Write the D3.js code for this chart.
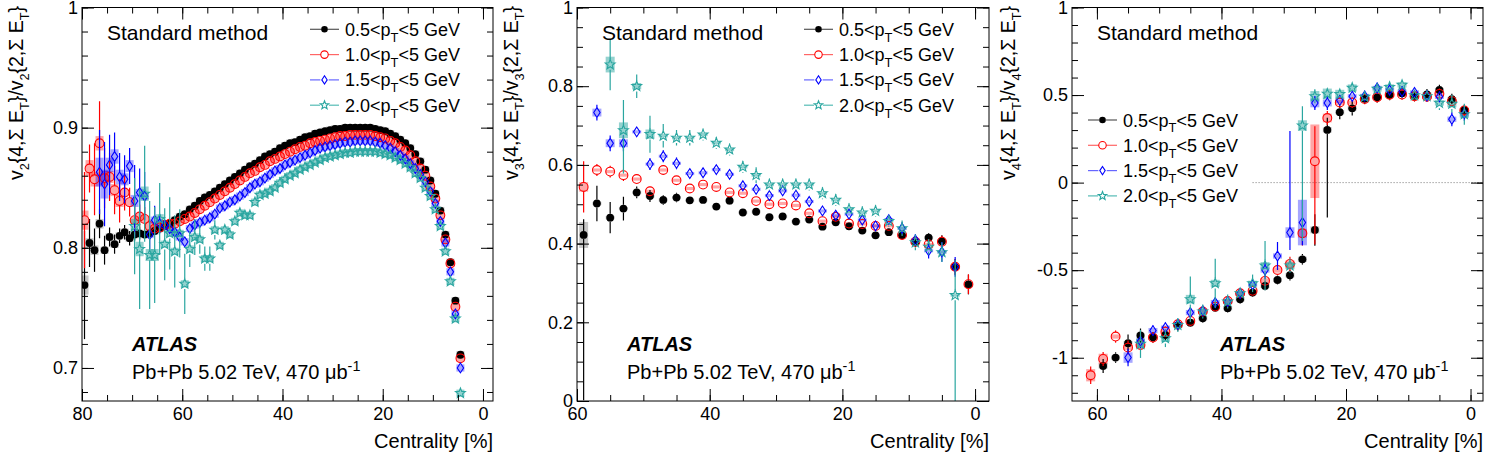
<!DOCTYPE html>
<html lang="en">
<head>
<meta charset="UTF-8">
<title>ATLAS v_n{4,ΣE_T}/v_n{2,ΣE_T} vs centrality</title>
<script src="https://d3js.org/d3.v7.min.js"></script>
<style>
  body { margin: 0; background: #fff; }
  svg { display: block; font-family: "Liberation Sans", Arial, Helvetica, sans-serif; }
</style>
</head>
<body>
<svg id="chart" width="1500" height="465"></svg>
<script>
// ---- series (lower pT cut of each sample) ----
const ptLow = ["0.5", "1.0", "1.5", "2.0"];

// ---- panel 1: v2{4}/v2{2}, 1% centrality bins ----
const p1Cent = [79.5,78.5,77.5,76.5,75.5,74.5,73.5,72.5,71.5,70.5,69.5,68.5,67.5,66.5,65.5,64.5,63.5,62.5,61.5,60.5,
  59.5,58.5,57.5,56.5,55.5,54.5,53.5,52.5,51.5,50.5,49.5,48.5,47.5,46.5,45.5,44.5,43.5,42.5,41.5,40.5,
  39.5,38.5,37.5,36.5,35.5,34.5,33.5,32.5,31.5,30.5,29.5,28.5,27.5,26.5,25.5,24.5,23.5,22.5,21.5,20.5,
  19.5,18.5,17.5,16.5,15.5,14.5,13.5,12.5,11.5,10.5,9.5,8.5,7.5,6.5,5.5,4.5];
const p1Black = [.769,.804,.798,.820,.798,.809,.803,.810,.813,.808, .811,.812,.811,.812,.814,.816,.818,.820,.823,.826,
  .828,.832,.835,.839,.842,.844,.847,.850,.853,.856, .859,.862,.865,.868,.870,.873,.876,.878,.880,.883,
  .885,.887,.888,.890,.892,.893,.895,.896,.897,.898, .899,.899,.900,.900,.900,.900,.900,.900,.899,.898,
  .897,.895,.893,.890,.887,.883,.878,.872,.865,.856, .845,.831,.811,.788,.756,.711];
const p1Red = [.823,.866,.857,.887,.858,.859,.848,.839,.846,.838, .823,.826,.824,.818,.816,.817,.819,.820,.820,.822,
  .824,.826,.829,.832,.835,.838,.841,.844,.847,.850, .853,.856,.859,.862,.864,.867,.869,.872,.874,.876,
  .878,.880,.882,.884,.885,.887,.888,.889,.890,.891, .892,.893,.893,.894,.894,.894,.894,.894,.893,.892,
  .891,.889,.887,.884,.881,.877,.872,.866,.860,.851, .841,.827,.807,.787,.751,.708];
const p1Blue = [null,null,null,.863,.853,.869,.876,.859,.857,.868, .839,.846,.843,.811,.823,.820,.819,.816,.813,.809,
  .805,.816,.819,.821,.823,.825,.828,.833,.835,.838, .840,.843,.846,.850,.853,.855,.858,.861,.864,.866,
  .869,.871,.873,.875,.877,.879,.881,.883,.884,.885, .886,.887,.888,.888,.889,.889,.889,.889,.888,.887,
  .885,.883,.880,.877,.874,.870,.866,.861,.855,.847, .837,.822,.804,.780,.745,.700];
const p1Teal = [null,null,null,null,null,null,null,null,null,null, .818,.799,.845,.794,.794,.824,.803,.812,.797,.812,
  .770,.799,.809,.807,.791,.791,.815,.802,.815,.811, .822,.829,.827,.827,.838,.844,.845,.847,.850,.854,
  .857,.860,.862,.865,.867,.869,.871,.873,.875,.876, .877,.878,.879,.879,.880,.880,.880,.880,.880,.879,
  .878,.877,.875,.873,.870,.867,.862,.858,.850,.843, .832,.818,.797,.772,.741,.679];
// statistical / systematic uncertainties (peripheral bins; the rest are tiny)
const p1BlackStat = [0.045,0.02,0.018,0.012,0.012,0.008,0.008,0.006,0.006,0.006,0.005,0.005];
const p1RedStat = [0.04,0.02,0.03,0.035,0.025,0.02,0.02,0.018,0.015,0.012,0.012,0.01,0.01,0.006];
const p1BlueStat = [0,0,0,0.035,0.035,0.025,0.02,0.02,0.02,0.015,0.03,0.02,0.02,0.012,0.012,0.008];
const p1TealStat = [0,0,0,0,0,0,0,0,0,0,0.04,0.05,0.04,0.045,0.04,0.03,0.03,0.03,0.03,0.02,
  0.025,0.015,0.015,0.012,0.01,0.01,0.008];
const p1BlackSys = [0.008,0.004,0.004,0.004];
const p1RedSys = [0.008,0.007,0.006,0.006,0.006,0.005,0.005,0.005];
const p1BlueSys = [0,0,0,0.012,0.012,0.006,0.006,0.006,0.005,0.005,0.005];
const p1TealSys = [0,0,0,0,0,0,0,0,0,0,0.006,0.006,0.006,0.005,0.005,0.004];

// ---- panel 2: v3{4}/v3{2}, 2% bins ----
const p2Cent = [59,57,55,53,51,49,47,45,43,41,39,37,35,33,31,29,27,25,23,21,19,17,15,13,11,9,7,5,3,1];
const p2Black = [0.422,0.502,0.466,0.489,0.530,0.521,0.511,0.517,0.510,0.511, 0.494,0.509,0.479,0.481,0.467,0.469,0.456,0.461,0.443,0.454,
  0.444,0.433,0.421,0.429,0.421,0.403,0.415,0.406,0.341,0.296];
const p2Red = [0.544,0.587,0.583,0.574,0.564,0.533,0.587,0.561,0.540,0.550, 0.544,0.530,0.528,0.508,0.500,0.502,0.497,0.477,0.457,0.468,
  0.451,0.450,0.445,0.445,0.422,0.405,0.398,0.405,0.341,0.297];
const p2Blue = [null,0.733,0.655,0.655,0.684,0.602,0.622,0.604,0.578,0.580, 0.588,0.576,0.547,0.538,0.522,0.534,0.523,0.507,0.483,0.472,
  0.475,0.460,0.445,0.461,0.439,0.409,0.382,0.379,0.341,null];
const p2Teal = [null,null,0.855,0.688,0.800,0.678,0.674,0.669,0.669,0.677, 0.656,0.639,0.595,0.574,0.550,0.550,0.550,0.550,0.528,0.511,
  0.487,0.479,0.483,0.457,0.439,0.403,0.392,0.378,0.269,null];
const p2BlackStat = [[0.42,0.04],0.045,0.04,0.03,0.015,0.015,0.012,0.012,0.01,0.01, 0.01,0.01,0.01,0.01,0.01,0.01,0.01,0.01,0.01,0.01,
  0.01,0.01,0.01,0.01,0.01,0.012,0.012,0.015,0.02,0.025];
const p2RedStat = [0.065,0.015,0.015,0.015,0.012,0.012,0.012,0.01,0.01,0.01, 0.01,0.01,0.01,0.01,0.01,0.01,0.01,0.01,0.01,0.01,
  0.01,0.01,0.01,0.01,0.01,0.012,0.012,0.015,0.02,0.025];
const p2BlueStat = [0,0.02,0.02,0.02,0.012,0.015,0.015,0.015,0.012,0.012, 0.012,0.012,0.012,0.012,0.012,0.012,0.012,0.012,0.012,0.012,
  0.012,0.012,0.012,0.012,0.015,0.015,0.02,0.025,0.025,0];
const p2TealStat = [0,0,0.065,[0.11,0.077],0.03,0.047,0.03,0.02,0.02,0.015, 0.015,0.015,0.015,0.02,0.015,0.015,0.015,0.015,0.015,0.015,
  0.015,0.015,0.015,0.015,0.02,0.02,0.02,0.025,[0.27,0.09],0];
const p2BlackSys = [0.033];
const p2RedSys = [0.012];
const p2BlueSys = [0,0.01,0.01,0.01];
const p2TealSys = [0,0,0.02,0.02,0.008,0.012];

// ---- panel 3: v4{4}/v4{2}, 2% bins ----
const p3Cent = [61,59,57,55,53,51,49,47,45,43,41,39,37,35,33,31,29,27,25,23,21,19,17,15,13,11,9,7,5,3,1];
const p3Black = [null,-1.047,-0.999,-0.917,-0.873,-0.883,-0.870,-0.816,-0.800,-0.775, -0.714,-0.717,-0.666,-0.628,-0.590,-0.556,-0.529,-0.438,-0.270,0.301,
  0.402,0.424,0.479,0.487,0.500,0.510,0.495,0.504,0.529,0.477,0.415];
const p3Red = [-1.100,-1.007,-0.879,-0.942,-0.927,-0.885,-0.851,-0.809,-0.790,-0.736, -0.708,-0.676,-0.632,-0.618,-0.561,-0.499,-0.464,-0.289,0.122,0.369,
  0.457,0.457,0.478,0.487,0.502,0.503,0.493,0.490,0.507,0.465,0.412];
const p3Blue = [null,null,null,-0.999,-0.905,-0.845,-0.828,-0.809,-0.742,-0.731, -0.685,-0.679,-0.632,-0.584,-0.499,-0.419,-0.285,-0.228,0.455,0.455,
  0.470,0.493,0.495,0.541,0.529,0.520,0.515,0.495,0.490,0.362,0.393];
const p3Teal = [null,null,null,null,-0.921,null,-0.889,-0.813,-0.666,-0.736, -0.575,-0.679,-0.632,-0.575,-0.474,null,-0.474,0.326,0.493,0.507,
  0.505,0.541,0.490,0.535,0.546,0.558,0.498,0.493,0.455,0.450,0.390];
const p3BlackStat = [0,0.04,0.03,0.05,0.04,0.03,0.03,0.03,0.025,0.025, 0.025,0.025,0.025,0.025,0.025,0.025,0.03,0.03,0.09,[0.5,0.07],
  0.04,0.04,0.03,0.03,0.03,0.03,0.03,0.03,0.03,0.03,0.03];
const p3RedStat = [0.05,0.04,0.035,0.04,0.03,0.03,0.03,0.025,0.025,0.025, 0.025,0.025,0.025,0.025,0.025,0.03,0.04,0.07,[0.476,0.2],0.04,
  0.03,0.03,0.03,0.03,0.03,0.03,0.03,0.03,0.03,0.03,0.03];
const p3BlueStat = [0,0,0,0.05,0.04,0.03,0.03,0.03,0.03,0.03, 0.03,0.03,0.03,0.03,0.05,0.08,[0.1,0.58],0.13,0.04,0.04,
  0.03,0.03,0.03,0.03,0.03,0.03,0.03,0.03,0.03,0.04,0.04];
const p3TealStat = [0,0,0,0,0.08,0,0.05,0.04,0.13,0.04, 0.14,0.04,0.03,0.05,0.14,0,0.04,[0.66,0.11],0.04,0.03,
  0.03,0.03,0.03,0.03,0.03,0.03,0.03,0.03,0.04,0.05,0.06];
const p3BlackSys = [0,0.015,0.012,0.012,0.012,0.012,0.012,0.012,0.012,0.012, 0.012,0.012,0.012,0.012,0.012,0.012,0.012,0.015,0.02,0.015,
  0.012,0.012,0.012,0.012,0.012,0.012,0.012,0.012,0.012,0.012,0.012];
const p3RedSys = [0.035,0.03,0.012,0.015,0.012,0.012,0.012,0.012,0.012,0.012, 0.012,0.012,0.012,0.012,0.015,0.015,0.02,0.025,0.21,0.025,
  0.015,0.012,0.012,0.012,0.012,0.012,0.012,0.012,0.012,0.012,0.012];
const p3BlueSys = [0,0,0,0.03,0.015,0.015,0.012,0.012,0.015,0.012, 0.015,0.012,0.012,0.012,0.015,0.015,0.03,0.13,0.025,0.02,
  0.015,0.012,0.012,0.012,0.012,0.012,0.012,0.012,0.012,0.015,0.015];
const p3TealSys = [0,0,0,0,0.03,0,0.02,0.015,0.025,0.015, 0.02,0.015,0.015,0.015,0.02,0,0.02,0.03,0.03,0.03,
  0.025,0.02,0.015,0.015,0.015,0.015,0.015,0.015,0.015,0.02,0.02];

// ---- axis ticks ----
const p1XTicks = [80, 60, 40, 20, 0];
const p1YTicks = [0.7, 0.8, 0.9, 1];
const p1YLabels = ["0.7", "0.8", "0.9", "1"];
const p2XTicks = [60, 40, 20, 0];
const p2YTicks = [0, 0.2, 0.4, 0.6, 0.8, 1];
const p2YLabels = ["0", "0.2", "0.4", "0.6", "0.8", "1"];
const p3XTicks = [60, 40, 20, 0];
const p3YTicks = [-1, -0.5, 0, 0.5, 1];
const p3YLabels = ["-1", "-0.5", "0", "0.5", "1"];

// ---- styling ----
const colors = ["#000000", "#ff0000", "#0000ff", "#2aa6a0"];
const legendLine = ["#555555", "#ff6666", "#6666ff", "#55bbb5"];
const boxFill = ["rgba(0,0,0,0.22)", "rgba(255,0,0,0.35)", "rgba(0,0,255,0.35)", "rgba(42,166,160,0.5)"];
const mHalf = [3.9, 4.4, 4.9, 5.2];

const svg = d3.select("#chart");
svg.append("rect").attr("width", 1500).attr("height", 465).attr("fill", "#fff");

const panels = [
  { n: 2, left: 82, right: 493, top: 7.5, bottom: 401, xDom: [80, -2], yDom: [0.6725, 1],
    cent: p1Cent, vals: [p1Black, p1Red, p1Blue, p1Teal],
    stat: [p1BlackStat, p1RedStat, p1BlueStat, p1TealStat], sys: [p1BlackSys, p1RedSys, p1BlueSys, p1TealSys],
    statDef: 0.002, sysDef: 0.003, boxW: 8,
    xTicks: p1XTicks, xMinor: 5, yTicks: p1YTicks, yLabels: p1YLabels, yMinor: 0.02,
    titleX: 23, methodX: 107, atlasX: 132, leg: { x: 310, y: 29.3 } },
  { n: 3, left: 577, right: 989, top: 7.5, bottom: 401, xDom: [60, -2.1], yDom: [0, 1],
    cent: p2Cent, vals: [p2Black, p2Red, p2Blue, p2Teal],
    stat: [p2BlackStat, p2RedStat, p2BlueStat, p2TealStat], sys: [p2BlackSys, p2RedSys, p2BlueSys, p2TealSys],
    statDef: 0.01, sysDef: 0.004, boxW: 9,
    xTicks: p2XTicks, xMinor: 5, yTicks: p2YTicks, yLabels: p2YLabels, yMinor: 0.05,
    titleX: 518, methodX: 602, atlasX: 627, leg: { x: 804, y: 29.3 } },
  { n: 4, left: 1072, right: 1483, top: 7.5, bottom: 401, xDom: [64, -2], yDom: [-1.247, 1],
    cent: p3Cent, vals: [p3Black, p3Red, p3Blue, p3Teal],
    stat: [p3BlackStat, p3RedStat, p3BlueStat, p3TealStat], sys: [p3BlackSys, p3RedSys, p3BlueSys, p3TealSys],
    statDef: 0.03, sysDef: 0.012, boxW: 9,
    xTicks: p3XTicks, xMinor: 5, yTicks: p3YTicks, yLabels: p3YLabels, yMinor: 0.1,
    titleX: 1015, methodX: 1097, atlasX: 1220, leg: { x: 1088, y: 120 }, zeroFrom: 35 }
];

// text with sub/superscripts: parts are strings or [text, "sub"|"sup"]
function rich(t, parts, size, subScale) {
  let shift = 0;
  const sc = subScale || 0.72;
  parts.forEach(p => {
    const [s, k] = typeof p === "string" ? [p, ""] : p;
    const off = k === "sub" ? size * 0.33 : k === "sup" ? -size * 0.42 : 0;
    t.append("tspan").attr("dy", (off - shift).toFixed(2))
      .attr("font-size", k ? size * sc : size).text(s);
    shift = off;
  });
  return t;
}

function pick(arr, i, def) {
  const v = arr[i];
  if (v === undefined || v === null) return [def, def];
  return Array.isArray(v) ? v : [v, v];
}

function marker(g, k, cx, cy, r) {
  const c = colors[k];
  if (k === 0) {
    g.append("circle").attr("cx", cx).attr("cy", cy).attr("r", r).attr("fill", c);
  } else if (k === 1) {
    g.append("circle").attr("cx", cx).attr("cy", cy).attr("r", r)
      .attr("fill", "none").attr("stroke", c).attr("stroke-width", 1.1);
  } else if (k === 2) {
    const w = r * 0.65;
    g.append("path").attr("d", `M${cx},${cy - r}L${cx + w},${cy}L${cx},${cy + r}L${cx - w},${cy}Z`)
      .attr("fill", "none").attr("stroke", c).attr("stroke-width", 1.1);
  } else {
    const pts = d3.range(10).map(j => {
      const a = -Math.PI / 2 + j * Math.PI / 5, rr = j % 2 ? r * 0.42 : r;
      return [cx + rr * Math.cos(a), cy + rr * Math.sin(a)];
    });
    g.append("path").attr("d", "M" + pts.join("L") + "Z")
      .attr("fill", "none").attr("stroke", c).attr("stroke-width", 1.1);
  }
}

function minors(dom, step) {
  const lo = Math.min(...dom), hi = Math.max(...dom);
  return d3.range(Math.ceil(lo / step - 1e-9), Math.floor(hi / step + 1e-9) + 1).map(k => +(k * step).toFixed(6));
}

panels.forEach((P, pi) => {
  const x = d3.scaleLinear().domain(P.xDom).range([P.left, P.right]);
  const y = d3.scaleLinear().domain(P.yDom).range([P.bottom, P.top]);
  const g = svg.append("g");

  const clipId = "clip" + pi;
  g.append("clipPath").attr("id", clipId).append("rect")
    .attr("x", P.left).attr("y", P.top).attr("width", P.right - P.left).attr("height", P.bottom - P.top);

  // zero reference line
  if (P.zeroFrom !== undefined) {
    g.append("line").attr("x1", x(P.zeroFrom)).attr("x2", P.right).attr("y1", y(0)).attr("y2", y(0))
      .attr("stroke", "#777").attr("stroke-width", 1).attr("stroke-dasharray", "1,2");
  }

  const plot = g.append("g").attr("clip-path", `url(#${clipId})`);

  // systematic boxes
  P.vals.forEach((vals, k) => {
    vals.forEach((v, i) => {
      if (v === null) return;
      const s = pick(P.sys[k], i, P.sysDef)[0];
      if (!s) return;
      plot.append("rect").attr("x", x(P.cent[i]) - P.boxW / 2).attr("width", P.boxW)
        .attr("y", y(v + s)).attr("height", Math.max(1, y(v - s) - y(v + s)))
        .attr("fill", boxFill[k]);
    });
  });

  // stat error bars + markers
  P.vals.forEach((vals, k) => {
    const sg = plot.append("g");
    vals.forEach((v, i) => {
      if (v === null) return;
      const cx = x(P.cent[i]), cy = y(v);
      const [lo, hi] = pick(P.stat[k], i, P.statDef);
      const h = mHalf[k];
      const yTop = y(v + hi), yBot = y(v - lo);
      if (cy - yTop > h) sg.append("line").attr("x1", cx).attr("x2", cx).attr("y1", yTop).attr("y2", cy - h)
        .attr("stroke", colors[k]).attr("stroke-width", 1.2);
      if (yBot - cy > h) sg.append("line").attr("x1", cx).attr("x2", cx).attr("y1", cy + h).attr("y2", yBot)
        .attr("stroke", colors[k]).attr("stroke-width", 1.2);
      marker(sg, k, cx, cy, h);
    });
  });

  // frame
  g.append("rect").attr("x", P.left).attr("y", P.top).attr("width", P.right - P.left)
    .attr("height", P.bottom - P.top).attr("fill", "none").attr("stroke", "#000").attr("stroke-width", 1);

  // ticks on all four sides, pointing inward
  const axis = (fn, scale, vals, size, tx, ty, fmt, pad) => {
    const a = fn(scale).tickValues(vals).tickSize(-size).tickSizeOuter(0).tickPadding(pad || 0)
      .tickFormat(fmt || (() => ""));
    const ag = g.append("g").attr("transform", `translate(${tx},${ty})`).call(a);
    ag.select(".domain").remove();
    ag.selectAll("line").attr("stroke", "#000");
    ag.attr("font-family", null).attr("font-size", 18);
    ag.selectAll("text").attr("fill", "#000");
    return ag;
  };
  const xMin = minors(P.xDom, P.xMinor), yMin = minors(P.yDom, P.yMinor);
  axis(d3.axisBottom, x, xMin, 6, 0, P.bottom);
  axis(d3.axisTop, x, xMin, 6, 0, P.top);
  axis(d3.axisLeft, y, yMin, 6, P.left, 0);
  axis(d3.axisRight, y, yMin, 6, P.right, 0);
  axis(d3.axisBottom, x, P.xTicks, 12, 0, P.bottom, d => String(d), 6.5);
  axis(d3.axisTop, x, P.xTicks, 12, 0, P.top);
  axis(d3.axisLeft, y, P.yTicks, 12, P.left, 0, (d, i) => P.yLabels[i], 4);
  axis(d3.axisRight, y, P.yTicks, 12, P.right, 0);

  // axis titles
  g.append("text").attr("x", P.right).attr("y", 448).attr("text-anchor", "end")
    .attr("font-size", 20).text("Centrality [%]");
  rich(g.append("text").attr("text-anchor", "end").attr("transform", `translate(${P.titleX},6) rotate(-90)`),
    ["v", [String(P.n), "sub"], "{4,Σ E", ["T", "sub"], "}/v", [String(P.n), "sub"], "{2,Σ E", ["T", "sub"], "}"], 19.5, 0.65);

  // labels
  g.append("text").attr("x", P.methodX).attr("y", 40).attr("font-size", 21).text("Standard method");
  g.append("text").attr("x", P.atlasX).attr("y", 351).attr("font-size", 20)
    .attr("font-weight", "bold").attr("font-style", "italic").text("ATLAS");
  rich(g.append("text").attr("x", P.atlasX).attr("y", 379), ["Pb+Pb 5.02 TeV, 470 μb", ["-1", "sup"]], 20);

  // legend
  ptLow.forEach((lab, k) => {
    const ly = P.leg.y + k * 25.3, lx = P.leg.x, mx = lx + 14.5, r = mHalf[k] * 0.85;
    g.append("line").attr("x1", lx).attr("x2", mx - r).attr("y1", ly).attr("y2", ly)
      .attr("stroke", legendLine[k]).attr("stroke-width", 1.2);
    g.append("line").attr("x1", mx + r).attr("x2", lx + 29).attr("y1", ly).attr("y2", ly)
      .attr("stroke", legendLine[k]).attr("stroke-width", 1.2);
    marker(g, k, mx, ly, r);
    rich(g.append("text").attr("x", lx + 35).attr("y", ly + 6.5),
      [lab + "<p", ["T", "sub"], "<5 GeV"], 18);
  });
});
</script>
</body>
</html>
